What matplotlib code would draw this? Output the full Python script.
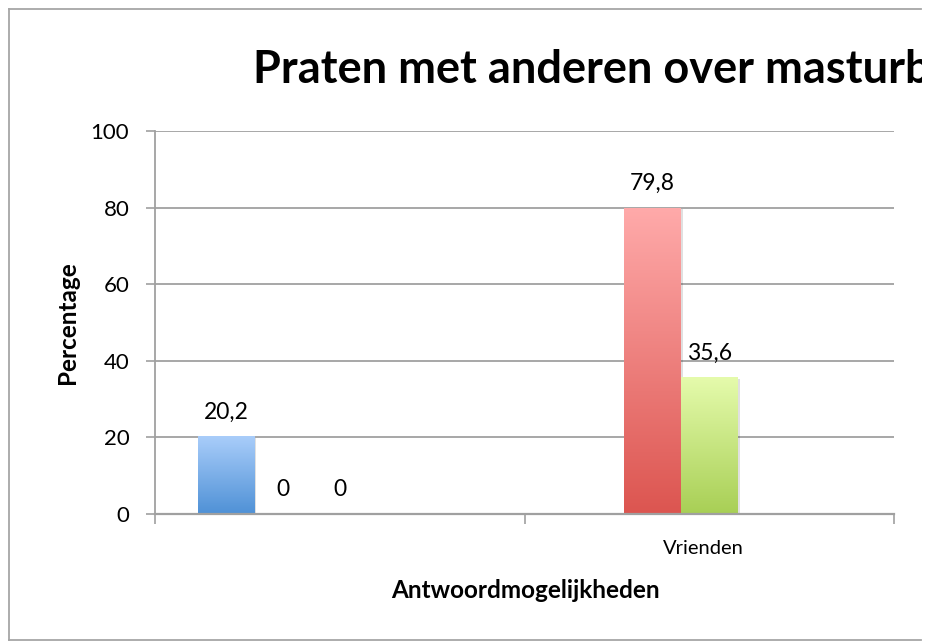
import matplotlib
matplotlib.use("Agg")
import matplotlib.pyplot as plt
import numpy as np
from matplotlib.colors import LinearSegmentedColormap
from matplotlib.patches import Rectangle
from matplotlib.transforms import offset_copy, ScaledTranslation
from matplotlib.lines import Line2D

plt.rcParams['font.family'] = ['Lato', 'DejaVu Sans']

categories = ["", "Vrienden"]
blue_values = [20.2, np.nan]
red_values = [0, 79.8]
green_values = [0, 35.6]
n_slots = 5  # the chart reserves room for 5 series per category

series = [
    (blue_values, "#a9cdfa", "#4f91d6"),
    (red_values, "#ffaaaa", "#dc5550"),
    (green_values, "#e5fbac", "#a8cf55"),
]

W, H = 930, 642
fig = plt.figure(figsize=(W / 100, H / 100), dpi=100)
ax = fig.add_axes([155 / W, (H - 514) / H, (894 - 155) / W, (514 - 131) / H])

x = np.arange(len(categories))
bw = 1 / (n_slots + 1.5)

for i, (vals, top, bottom) in enumerate(series):
    cmap = LinearSegmentedColormap.from_list("g%d" % i, [bottom, top])
    offs = (i - (n_slots - 1) / 2) * bw
    for xc, v in zip(x, vals):
        if np.isnan(v):
            continue
        left = xc + offs - bw / 2
        if v > 0:
            shadow = Rectangle((left, 0), bw, v, facecolor="#000000", alpha=0.12,
                               edgecolor="none", zorder=2,
                               transform=offset_copy(ax.transData, fig=fig, x=2, y=-1, units="dots"))
            ax.add_patch(shadow)
            grad = np.linspace(0, 1, 256).reshape(-1, 1)
            ax.imshow(grad, extent=[left, left + bw, 0, v], origin="lower",
                      aspect="auto", cmap=cmap, zorder=3, interpolation="bilinear")
        ax.annotate(f"{v:g}".replace(".", ","), (xc + offs, v), xytext=(0, 13),
                    textcoords="offset points", ha="center", va="baseline",
                    fontsize=16.5, color="black", zorder=5)

ax.set_xlim(-0.5, len(categories) - 0.5)
ax.set_ylim(0, 100)
ax.set_yticks(range(0, 101, 20))
ax.tick_params(axis="y", labelsize=16, length=6.5, width=1.2, color="#a0a0a0", pad=12)
ax.set_xticks(np.arange(-0.5, len(categories), 1))
ax.set_xticklabels([])
ax.set_xticks(x, minor=True)
ax.set_xticklabels(categories, minor=True)
ax.tick_params(axis="x", which="major", length=7, width=1.2, color="#a0a0a0")
ax.tick_params(axis="x", which="minor", length=0, labelsize=14.5, pad=19)
for lab in ax.get_xticklabels(minor=True):
    lab.set_transform(lab.get_transform() + ScaledTranslation(-6 / 100, 0, fig.dpi_scale_trans))
ax.grid(axis="y", color="#a0a0a0", linewidth=1.3, zorder=0)
ax.set_axisbelow(True)
for s in ["top", "right"]:
    ax.spines[s].set_visible(False)
ax.spines["left"].set_color("#a0a0a0")
ax.spines["left"].set_linewidth(1.3)
ax.spines["bottom"].set_color("#a0a0a0")
ax.spines["bottom"].set_linewidth(1.6)
ax.spines["bottom"].set_zorder(4)

ax.set_ylabel("Percentage", fontsize=17.5, fontweight="bold", va="center")
ax.yaxis.set_label_coords((68 - 155) / (894 - 155), 0.5)
ax.set_xlabel("Antwoordmogelijkheden", fontsize=17.5, fontweight="bold", va="center")
ax.xaxis.set_label_coords((525 - 155) / (894 - 155), (514 - 591) / (514 - 131))

fig.text(253 / W, 1 - 83 / H, "Praten met anderen over masturbatie",
         fontsize=32.5, fontweight="bold", ha="left", va="baseline")

# the chart is cut off on the right: cover everything past the edge
fig.add_artist(Rectangle((922 / W, 0), 1, 1, transform=fig.transFigure,
                         facecolor="white", edgecolor="none", zorder=10))

# chart border (right side is cut off)
bc = "#a6a6a6"
for xs, ys in [((9, 921), (9, 9)), ((9, 9), (9, 640)), ((9, 921), (640, 640))]:
    fig.add_artist(Line2D([v / W for v in xs], [1 - v / H for v in ys],
                          color=bc, linewidth=1.3, transform=fig.transFigure, zorder=11))

fig.savefig("out.png", dpi=100)
